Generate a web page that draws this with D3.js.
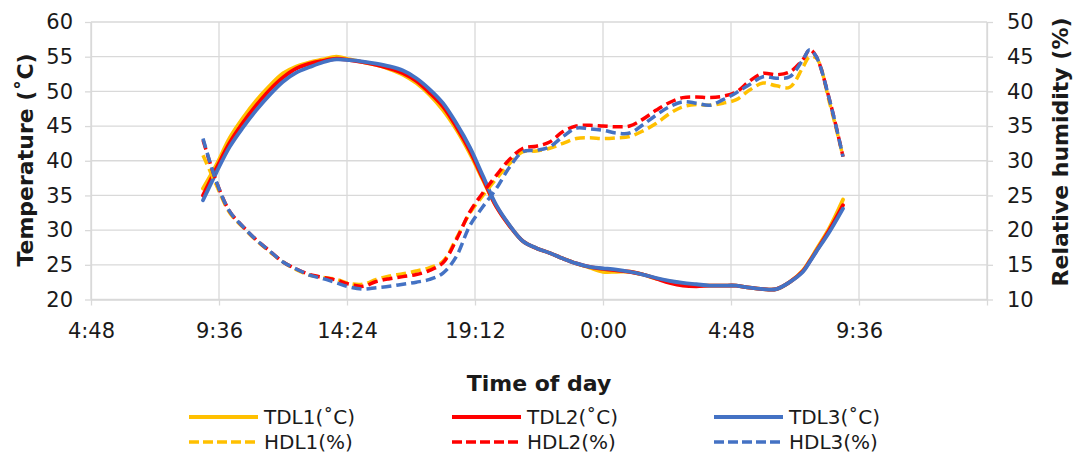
<!DOCTYPE html>
<html>
<head>
<meta charset="utf-8">
<script src="https://cdn.jsdelivr.net/npm/d3@7"></script>
<style>
  body { margin: 0; background: #fff; }
  svg { display: block; font-family: "DejaVu Sans", sans-serif; }
</style>
</head>
<body>
<script>
// time of reading, hours from midnight of day 1 (33 = 9:00 next day)
const times = [9, 9.5, 10, 10.5, 11, 11.5, 12, 12.5, 13, 13.5,
  14, 14.5, 15, 15.5, 16, 16.5, 17, 17.5, 18, 18.5,
  19, 19.5, 20, 20.5, 21, 21.5, 22, 22.5, 23, 23.5,
  24, 24.5, 25, 25.5, 26, 26.5, 27, 27.5, 28, 28.5,
  29, 29.5, 30, 30.5, 31, 31.5, 31.75, 32, 32.5, 33];

// temperature (°C)
const tdl1 = [36.0, 39.4, 43.3, 46.2, 48.7, 50.8, 52.6, 53.6, 54.2, 54.6,
  55.0, 54.6, 54.2, 53.8, 53.2, 52.4, 51.2, 49.5, 47.3, 44.5,
  41.1, 37.2, 33.4, 30.6, 28.4, 27.4, 26.7, 25.9, 25.2, 24.6,
  24.0, 24.0, 24.0, 23.6, 23.0, 22.6, 22.3, 22.1, 22.0, 22.0,
  22.0, 21.7, 21.5, 21.5, 22.5, 24.2, 25.6, 27.2, 30.4, 34.4];
const tdl2 = [35.0, 38.9, 42.6, 45.5, 48.0, 50.2, 52.0, 53.3, 54.0, 54.4,
  54.7, 54.5, 54.2, 53.8, 53.3, 52.6, 51.5, 49.8, 47.8, 44.9,
  41.5, 37.4, 33.4, 30.6, 28.4, 27.4, 26.7, 25.9, 25.2, 24.7,
  24.4, 24.2, 24.0, 23.6, 23.0, 22.4, 22.0, 21.9, 22.0, 22.0,
  22.0, 21.7, 21.5, 21.5, 22.5, 24.1, 25.5, 27.0, 30.1, 33.6];
const tdl3 = [34.3, 38.3, 42.0, 44.8, 47.3, 49.5, 51.4, 52.7, 53.5, 54.2,
  54.6, 54.5, 54.3, 54.0, 53.6, 53.0, 51.9, 50.3, 48.3, 45.4,
  42.0, 37.8, 33.6, 30.7, 28.4, 27.4, 26.7, 25.9, 25.2, 24.7,
  24.5, 24.3, 24.0, 23.6, 23.1, 22.7, 22.4, 22.2, 22.0, 22.0,
  22.0, 21.7, 21.5, 21.5, 22.5, 24.0, 25.4, 26.9, 29.8, 33.1];

// relative humidity (%)
const hdl1 = [30.8, 26.5, 22.5, 20.4, 18.5, 16.9, 15.4, 14.3, 13.5, 13.2,
  12.9, 12.3, 12.2, 12.9, 13.4, 13.7, 14.1, 14.6, 15.5, 18.8,
  22.4, 25.0, 27.4, 29.6, 31.3, 31.4, 31.8, 32.5, 33.2, 33.3,
  33.2, 33.3, 33.5, 34.3, 35.4, 36.8, 37.8, 38.1, 38.0, 38.3,
  38.8, 40.2, 41.2, 40.8, 40.6, 43.5, 45.0, 44.8, 38.3, 30.6];
const hdl2 = [33.0, 27.0, 22.7, 20.5, 18.6, 17.0, 15.4, 14.4, 13.6, 13.2,
  12.8, 12.2, 11.9, 12.6, 13.0, 13.3, 13.6, 14.2, 15.3, 18.6,
  22.6, 25.4, 27.9, 30.2, 31.8, 32.1, 32.7, 34.2, 35.0, 35.1,
  35.0, 34.9, 35.0, 36.0, 37.3, 38.4, 39.1, 39.2, 39.1, 39.3,
  39.9, 41.5, 42.6, 42.4, 42.8, 44.6, 46.0, 45.0, 38.7, 30.6];
const hdl3 = [33.2, 27.0, 22.7, 20.5, 18.6, 17.0, 15.4, 14.4, 13.5, 13.0,
  12.4, 11.8, 11.5, 11.7, 11.9, 12.2, 12.5, 12.9, 13.8, 16.2,
  20.6, 23.4, 26.0, 29.1, 31.3, 31.5, 32.0, 33.5, 34.7, 34.6,
  34.4, 34.0, 34.0, 35.2, 36.6, 37.8, 38.5, 38.3, 38.0, 38.8,
  39.8, 41.0, 42.1, 41.9, 42.1, 44.6, 46.0, 45.0, 38.7, 30.6];

// axis ticks
const xTickValues = [4.8, 9.6, 14.4, 19.2, 24, 28.8, 33.6, 38.4];
const xTickLabels = ["4:48", "9:36", "14:24", "19:12", "0:00", "4:48", "9:36", ""];
const tempTicks = [20, 25, 30, 35, 40, 45, 50, 55, 60];
const rhTicks = [10, 15, 20, 25, 30, 35, 40, 45, 50];

const seriesNames = ["TDL1(˚C)", "TDL2(˚C)", "TDL3(˚C)", "HDL1(%)", "HDL2(%)", "HDL3(%)"];
const colors = ["#FFC000", "#FF0000", "#4472C4"];

// layout
const W = 1075, H = 457;
const plot = { left: 91, right: 987, top: 22, bottom: 299.5 };
const gridColor = "#d9d9d9";
const textColor = "#1a1a1a";

const svg = d3.select("body").append("svg")
  .attr("width", W)
  .attr("height", H);

svg.append("rect").attr("width", W).attr("height", H).attr("fill", "#fff");

const x = d3.scaleLinear().domain([4.8, 38.4]).range([plot.left, plot.right]);
const yT = d3.scaleLinear().domain([20, 60]).range([plot.bottom, plot.top]);
const yH = d3.scaleLinear().domain([10, 50]).range([plot.bottom, plot.top]);

// gridlines
svg.append("g").selectAll("line.h").data(tempTicks).join("line")
  .attr("x1", plot.left).attr("x2", plot.right)
  .attr("y1", d => yT(d)).attr("y2", d => yT(d))
  .attr("stroke", gridColor).attr("stroke-width", 1.3);
svg.append("g").selectAll("line.v").data(xTickValues).join("line")
  .attr("x1", d => x(d)).attr("x2", d => x(d))
  .attr("y1", plot.top).attr("y2", plot.bottom)
  .attr("stroke", gridColor).attr("stroke-width", 1.3);

// axes
function styleAxis(g) {
  g.select(".domain").attr("stroke", gridColor).attr("stroke-width", 1.3);
  g.selectAll(".tick line").attr("stroke", gridColor).attr("stroke-width", 1.3);
  g.selectAll(".tick text")
    .attr("fill", textColor)
    .style("font-size", "21px")
    .style("font-family", "'DejaVu Sans', sans-serif");
}

svg.append("g")
  .attr("transform", `translate(${plot.left},0)`)
  .call(d3.axisLeft(yT).tickValues(tempTicks).tickSize(6).tickPadding(12).tickSizeOuter(0))
  .call(styleAxis);

svg.append("g")
  .attr("transform", `translate(${plot.right},0)`)
  .call(d3.axisRight(yH).tickValues(rhTicks).tickSize(6).tickPadding(14).tickSizeOuter(0))
  .call(styleAxis);

svg.append("g")
  .attr("transform", `translate(0,${plot.bottom})`)
  .call(d3.axisBottom(x).tickValues(xTickValues)
    .tickFormat((d, i) => xTickLabels[i]).tickSize(6).tickPadding(18).tickSizeOuter(0))
  .call(styleAxis);

// axis titles
svg.append("text")
  .attr("transform", `translate(33,160) rotate(-90)`)
  .attr("text-anchor", "middle")
  .attr("fill", textColor)
  .style("font-size", "22px").style("font-weight", "bold")
  .text("Temperature (˚C)");

svg.append("text")
  .attr("transform", `translate(1068,152) rotate(-90)`)
  .attr("text-anchor", "middle")
  .attr("fill", textColor)
  .style("font-size", "22px").style("font-weight", "bold")
  .text("Relative humidity (%)");

svg.append("text")
  .attr("x", 539).attr("y", 391)
  .attr("text-anchor", "middle")
  .attr("fill", textColor)
  .style("font-size", "22px").style("font-weight", "bold")
  .text("Time of day");

// lines
const tempSeries = [tdl1, tdl2, tdl3];
const rhSeries = [hdl1, hdl2, hdl3];

const lineT = d3.line()
  .x((d, i) => x(times[i]))
  .y(d => yT(d))
  .curve(d3.curveCatmullRom);

const lineH = d3.line()
  .x((d, i) => x(times[i]))
  .y(d => yH(d))
  .curve(d3.curveCatmullRom);

tempSeries.forEach((s, i) => {
  svg.append("path")
    .attr("d", lineT(s))
    .attr("fill", "none")
    .attr("stroke", colors[i])
    .attr("stroke-width", 3.8)
    .attr("stroke-linejoin", "round")
    .attr("stroke-linecap", "round");
});

rhSeries.forEach((s, i) => {
  svg.append("path")
    .attr("d", lineH(s))
    .attr("fill", "none")
    .attr("stroke", colors[i])
    .attr("stroke-width", 3.5)
    .attr("stroke-dasharray", "10,5");
});

// legend
const legCols = [189, 452, 714];
const legRows = [417, 442];
const legLen = 69;

seriesNames.forEach((name, i) => {
  const col = i % 3;
  const row = Math.floor(i / 3);
  const g = svg.append("g")
    .attr("transform", `translate(${legCols[col]},${legRows[row]})`);
  g.append("line")
    .attr("x1", 0).attr("x2", legLen)
    .attr("stroke", colors[col])
    .attr("stroke-width", row === 0 ? 3.8 : 3.5)
    .attr("stroke-dasharray", row === 0 ? null : "10,4");
  g.append("text")
    .attr("x", legLen + 6).attr("y", 7)
    .attr("fill", textColor)
    .style("font-size", "20px")
    .text(name);
});
</script>
</body>
</html>
